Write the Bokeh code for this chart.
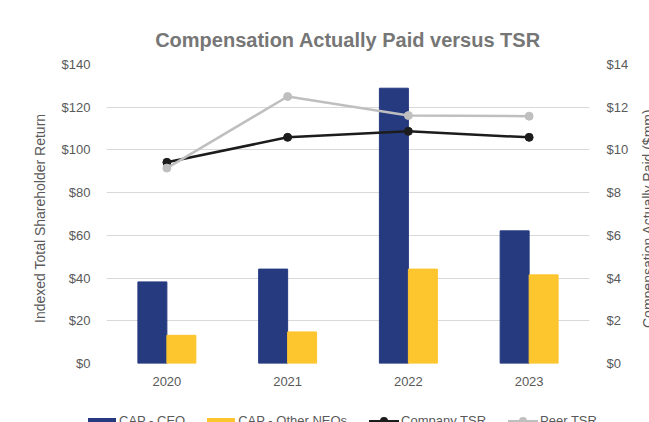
from bokeh.plotting import figure
from bokeh.layouts import row, column
from bokeh.models import (FactorRange, Range1d, LinearAxis, FixedTicker,
                          PrintfTickFormatter, Div)
from bokeh.transform import dodge
from bokeh.embed import file_html
from bokeh.resources import INLINE

years = ["2020", "2021", "2022", "2023"]
cap_ceo = [3.82, 4.42, 12.89, 6.21]        # $mm
cap_neo = [1.32, 1.48, 4.42, 4.15]         # $mm
company_tsr = [94.2, 105.9, 108.7, 105.9]  # indexed $
peer_tsr = [91.5, 125.0, 116.1, 115.8]     # indexed $
left_ticks = [0, 20, 40, 60, 80, 100, 120, 140]
right_ticks = [0, 2, 4, 6, 8, 10, 12, 14]
series_names = ["CAP - CEO", "CAP - Other NEOs", "Company TSR", "Peer TSR"]
left_title_text = "Indexed Total Shareholder Return"
right_title_text = "Compensation Actually Paid ($mm)"

FONT = "Liberation Sans"
TXT = "#595959"
GRID = "#d9d9d9"
NAVY = "#263a80"
YELLOW = "#fdc52e"
BLACK = "#1c1c1c"
GRAY = "#bfbfbf"

p = figure(width=573, height=393, x_range=FactorRange(*years),
           y_range=Range1d(left_ticks[0], left_ticks[-1]),
           output_backend="svg", toolbar_location=None,
           min_border_left=40, min_border_right=35, min_border_top=64,
           min_border_bottom=30)
p.extra_y_ranges = {"cap": Range1d(right_ticks[0], right_ticks[-1])}

p.title.text = "Compensation Actually Paid versus TSR"
p.title.align = "center"
p.title.text_font = FONT
p.title.text_font_size = "20px"
p.title.text_font_style = "bold"
p.title.text_color = "#767676"
p.title.standoff = 27

p.outline_line_color = None
p.background_fill_color = "white"
p.border_fill_color = "white"

p.vbar(x=dodge("x", -0.12, range=p.x_range), top="top", width=0.24,
       source=dict(x=years, top=cap_ceo), color=NAVY, y_range_name="cap")
p.vbar(x=dodge("x", 0.12, range=p.x_range), top="top", width=0.24,
       source=dict(x=years, top=cap_neo), color=YELLOW, y_range_name="cap")

p.line(years, company_tsr, line_color=BLACK, line_width=2.5)
p.scatter(years, company_tsr, size=8, color=BLACK)
p.line(years, peer_tsr, line_color=GRAY, line_width=2.5)
p.scatter(years, peer_tsr, size=8, color=GRAY)

ya = p.yaxis[0]
ya.ticker = FixedTicker(ticks=left_ticks)
ya.formatter = PrintfTickFormatter(format="$%d")

ra = LinearAxis(ticker=FixedTicker(ticks=left_ticks),
                major_label_overrides={l: "$%d" % r for l, r in zip(left_ticks, right_ticks)})
p.add_layout(ra, "right")

for ax in [ya, ra, p.xaxis[0]]:
    ax.axis_line_color = None
    ax.major_tick_line_color = None
    ax.minor_tick_line_color = None
    ax.major_label_text_font = FONT
    ax.major_label_text_font_size = "13px"
    ax.major_label_text_color = TXT
ya.major_label_standoff = 10
ra.major_label_standoff = 11
p.xaxis[0].major_label_standoff = 7

p.xgrid.grid_line_color = None
p.ygrid.grid_line_color = GRID
p.ygrid.grid_line_width = 1

# vertical axis titles
def vtitle(text, left_margin):
    style = ("margin-top:64px;margin-left:%dpx;width:16px;height:299px;"
             "writing-mode:vertical-rl;transform:rotate(180deg);text-align:center;"
             "font-family:'Liberation Sans';font-size:14px;line-height:16px;"
             "color:%s;white-space:nowrap;" % (left_margin, TXT))
    return '<div style="%s">%s</div>' % (style, text)

left_div = Div(text=vtitle(left_title_text, 27), width=48, height=393)
right_div = Div(text=vtitle(right_title_text, 4), width=28, height=393)

# legend row
def bar_swatch(color):
    return ('<span style="display:inline-block;width:28px;height:7px;'
            'background:%s;margin-right:3px;"></span>' % color)

def line_swatch(color):
    return ('<span style="display:inline-block;position:relative;width:30px;height:3px;'
            'background:%s;margin-right:2px;"><span style="position:absolute;left:11px;'
            'top:-3px;width:8px;height:8px;border-radius:50%%;background:%s;"></span></span>'
            % (color, color))

swatches = [bar_swatch(NAVY), bar_swatch(YELLOW), line_swatch(BLACK), line_swatch(GRAY)]
items = "".join(
    '<div style="display:flex;align-items:center;margin-right:22px;">%s'
    '<span style="font-family:\'Liberation Sans\';font-size:13px;color:%s;">%s</span></div>'
    % (sw, TXT, name) for sw, name in zip(swatches, series_names))
legend_div = Div(text='<div style="display:flex;align-items:center;height:26px;'
                      'padding-left:83px;white-space:nowrap;">%s</div>' % items,
                 width=649, height=29)

layout = column(row(left_div, p, right_div), legend_div)
open("out.html", "w").write(file_html(layout, INLINE))
